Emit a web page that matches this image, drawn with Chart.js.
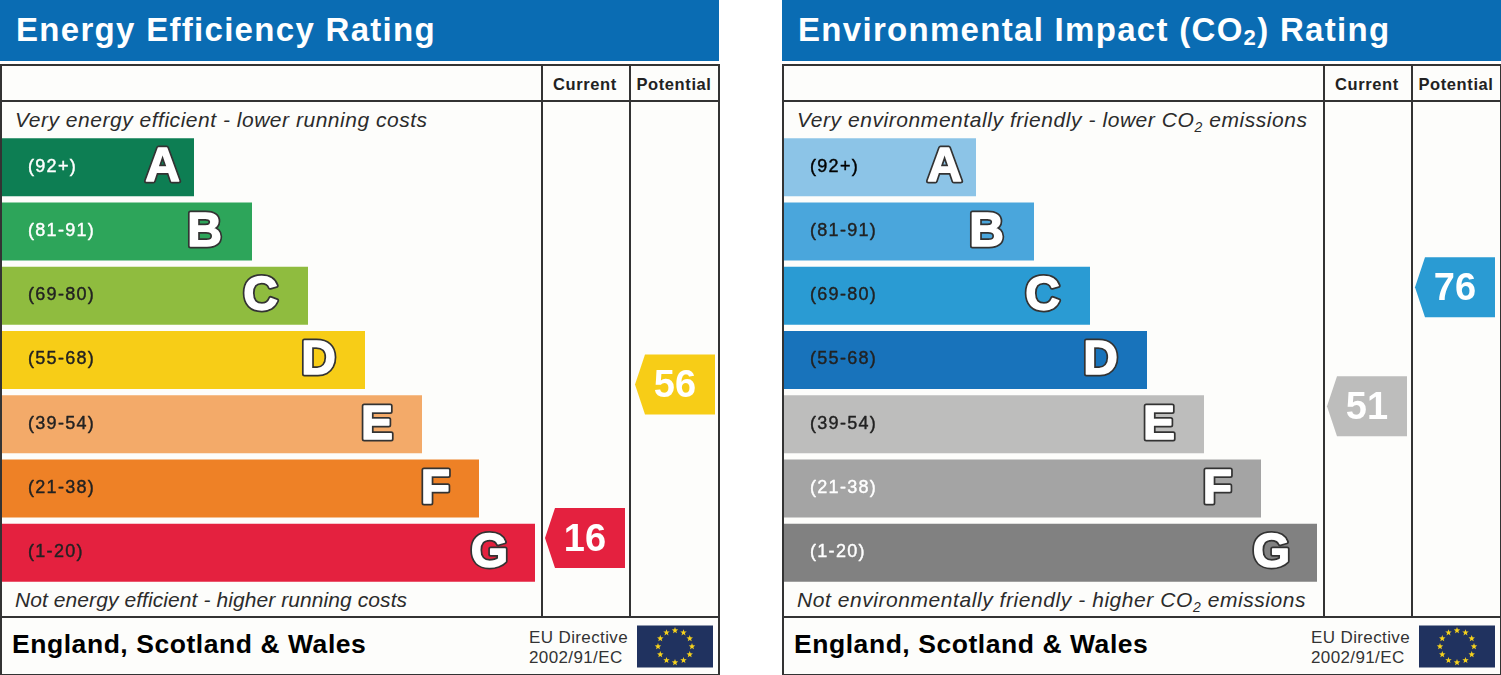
<!DOCTYPE html>
<html>
<head>
<meta charset="utf-8">
<title>Energy Efficiency and Environmental Impact Rating</title>
<script src="https://cdn.jsdelivr.net/npm/chart.js@4"></script>
<style>
html, body { margin: 0; padding: 0; background: #fff; width: 1501px; height: 675px; overflow: hidden; font-family: "Liberation Sans", Arial, sans-serif; }
.panel { position: absolute; top: 0; width: 719px; height: 675px; }
.panel canvas { position: absolute; left: 0; top: 0; }
.panel div { position: absolute; white-space: nowrap; }
.head { left: 0; top: 0; width: 719px; height: 61px; background: #0a6cb3; }
.title { left: 16px; top: 11px; color: #fff; font: bold 33px/38px "Liberation Sans", sans-serif; letter-spacing: 1.3px; }
.title sub { font-size: 22px; line-height: 0; vertical-align: -4px; }
.box { left: 0; top: 64px; width: 716px; height: 608px; border: 2px solid #333; background: #fdfdfb; }
.line { background: #333; }
.h1 { left: 0; top: 100px; width: 719px; height: 2px; }
.h2 { left: 0; top: 616px; width: 719px; height: 2px; }
.v1 { left: 541px; top: 65px; width: 2px; height: 552px; }
.v2 { left: 629px; top: 65px; width: 2px; height: 552px; }
.col { top: 74px; width: 88px; text-align: center; color: #222; font: bold 16.5px/20px "Liberation Sans", sans-serif; letter-spacing: .6px; }
.note { left: 15px; color: #2b2b2b; font: italic 21px/24px "Liberation Sans", sans-serif; letter-spacing: .52px; }
.note sub { font-size: 14px; line-height: 0; }
.nation { left: 12px; top: 629px; color: #000; font: bold 26.5px/30px "Liberation Sans", sans-serif; letter-spacing: .55px; }
.eu { left: 529px; color: #333; font: 17px/20px "Liberation Sans", sans-serif; letter-spacing: .38px; }
</style>
</head>
<body>
<div class="panel" style="left:0">
  <div class="head"></div>
  <div class="title">Energy Efficiency Rating</div>
  <div class="box"></div>
  <div class="line h1"></div><div class="line h2"></div><div class="line v1"></div><div class="line v2"></div>
  <div class="col" style="left:541px">Current</div>
  <div class="col" style="left:630px">Potential</div>
  <div class="note" style="top:108px">Very energy efficient - lower running costs</div>
  <div class="note" style="top:588px;letter-spacing:.08px">Not energy efficient - higher running costs</div>
  <div class="nation">England, Scotland &amp; Wales</div>
  <div class="eu" style="top:628px">EU Directive</div>
  <div class="eu" style="top:648px">2002/91/EC</div>
  <canvas id="energy" width="719" height="675"></canvas>
</div>
<div class="panel" style="left:782px">
  <div class="head"></div>
  <div class="title">Environmental Impact (CO<sub>2</sub>) Rating</div>
  <div class="box"></div>
  <div class="line h1"></div><div class="line h2"></div><div class="line v1"></div><div class="line v2"></div>
  <div class="col" style="left:541px">Current</div>
  <div class="col" style="left:630px">Potential</div>
  <div class="note" style="top:108px;letter-spacing:.56px">Very environmentally friendly - lower CO<sub>2</sub> emissions</div>
  <div class="note" style="top:588px;letter-spacing:.56px">Not environmentally friendly - higher CO<sub>2</sub> emissions</div>
  <div class="nation">England, Scotland &amp; Wales</div>
  <div class="eu" style="top:628px">EU Directive</div>
  <div class="eu" style="top:648px">2002/91/EC</div>
  <canvas id="environment" width="719" height="675"></canvas>
</div>
<script>
/* ======== Data ======== */
const bandLetters = ['A', 'B', 'C', 'D', 'E', 'F', 'G'];
const bandRanges = ['(92+)', '(81-91)', '(69-80)', '(55-68)', '(39-54)', '(21-38)', '(1-20)'];
const bandLengths = [192, 250, 306, 363, 420, 477, 533];

const energyColors = ['#0d7e53', '#2da55a', '#8fbc3f', '#f7cd17', '#f3aa69', '#ee8126', '#e4213f'];
const energyLabelColors = ['#fff', '#fff', '#222', '#222', '#222', '#222', '#222'];
const environmentColors = ['#8cc4e7', '#4aa6dc', '#2a9bd3', '#1873bb', '#bdbdbc', '#a4a4a4', '#818181'];
const environmentLabelColors = ['#000', '#222', '#222', '#222', '#222', '#fff', '#fff'];

// score, then where it sits on the band axis (A = 0 ... G = 6)
const energyCurrent = [16, 5.77];
const energyPotential = [56, 3.38];
const environmentCurrent = [51, 3.72];
const environmentPotential = [76, 1.87];

/* ======== Layout ======== */
const CURRENT_X = 583;
const ENERGY_POTENTIAL_X = 673;
const ENVIRONMENT_POTENTIAL_X = 671;
const LETTER_INSET = [14, 30, 30, 29, 29, 29, 27];
const FONT = '"Liberation Sans", sans-serif';

/* ======== Plugins ======== */
const bandText = {
    id: 'bandText',
    afterDatasetsDraw(chart, args, opts) {
        const ctx = chart.ctx;
        const bars = chart.getDatasetMeta(0).data;
        ctx.save();
        ctx.textBaseline = 'middle';
        bars.forEach((bar, i) => {
            ctx.letterSpacing = '1.3px';
            ctx.textAlign = 'left';
            ctx.font = '18px ' + FONT;
            ctx.fillStyle = opts.labelColors[i];
            ctx.fillText(bandRanges[i], 28, bar.y - 0.5);
            ctx.strokeStyle = opts.labelColors[i];
            ctx.lineWidth = 0.4;
            ctx.strokeText(bandRanges[i], 28, bar.y - 0.5);

            // outlined letter near the end of the bar
            const right = bar.x - LETTER_INSET[i];
            const y = bar.y + 1;
            ctx.letterSpacing = '0px';
            ctx.textAlign = 'right';
            ctx.font = 'bold 48px ' + FONT;
            ctx.lineJoin = 'round';
            ctx.strokeStyle = '#333';
            ctx.lineWidth = 5;
            ctx.strokeText(bandLetters[i], right, y);
            ctx.strokeStyle = '#fff';
            ctx.lineWidth = 1.5;
            ctx.strokeText(bandLetters[i], right, y);
            ctx.fillStyle = '#fff';
            ctx.fillText(bandLetters[i], right, y);
        });
        ctx.restore();
    }
};

const scoreMarkers = {
    id: 'scoreMarkers',
    afterDatasetsDraw(chart) {
        const ctx = chart.ctx;
        chart.data.datasets.forEach((ds, d) => {
            if (ds.type !== 'scatter') return;
            const p = chart.getDatasetMeta(d).data[0];
            const color = chart.data.datasets[0].backgroundColor[Math.round(ds.data[0].y)];
            ctx.save();
            ctx.fillStyle = color;
            ctx.beginPath();
            ctx.moveTo(p.x - 40, p.y);
            ctx.lineTo(p.x - 30, p.y - 30);
            ctx.lineTo(p.x + 40, p.y - 30);
            ctx.lineTo(p.x + 40, p.y + 30);
            ctx.lineTo(p.x - 30, p.y + 30);
            ctx.closePath();
            ctx.fill();
            ctx.fillStyle = '#fff';
            ctx.font = 'bold 38px ' + FONT;
            ctx.textAlign = 'center';
            ctx.textBaseline = 'middle';
            ctx.fillText(ds.score, p.x, p.y + 2);
            ctx.restore();
        });
    }
};

const euFlag = {
    id: 'euFlag',
    afterDraw(chart) {
        const ctx = chart.ctx;
        ctx.save();
        ctx.fillStyle = '#20325f';
        ctx.fillRect(637, 625.5, 76, 42);
        ctx.fillStyle = '#f6d21c';
        for (let i = 0; i < 12; i++) {
            const a = i * Math.PI / 6;
            const cx = 675 + 17 * Math.sin(a);
            const cy = 646.5 - 16 * Math.cos(a);
            ctx.beginPath();
            for (let k = 0; k < 10; k++) {
                const r = k % 2 ? 1.4 : 3.4;
                const b = k * Math.PI / 5;
                ctx.lineTo(cx + r * Math.sin(b), cy - r * Math.cos(b));
            }
            ctx.closePath();
            ctx.fill();
        }
        ctx.restore();
    }
};

/* ======== Chart Helper ======== */
function createRating(id, colors, labelColors, current, potential, potentialX) {
    return new Chart(document.getElementById(id), {
        type: 'bar',
        data: {
            labels: bandLetters,
            datasets: [
                { data: bandLengths, backgroundColor: colors, categoryPercentage: 1, barPercentage: 0.902 },
                // parsing off so the category axis keeps the fractional band position
                { type: 'scatter', label: 'Current', score: current[0], parsing: false, data: [{ x: CURRENT_X, y: current[1] }], pointRadius: 0 },
                { type: 'scatter', label: 'Potential', score: potential[0], parsing: false, data: [{ x: potentialX, y: potential[1] }], pointRadius: 0 }
            ]
        },
        options: {
            indexAxis: 'y',
            responsive: false,
            animation: false,
            layout: { padding: { left: 2, right: 0, top: 135, bottom: 90 } },
            scales: {
                x: { type: 'linear', min: 0, max: 717, display: false },
                y: { type: 'category', offset: true, min: 0, max: 6, display: false }
            },
            plugins: {
                legend: { display: false },
                tooltip: { enabled: false },
                bandText: { labelColors: labelColors }
            }
        },
        plugins: [bandText, scoreMarkers, euFlag]
    });
}

createRating('energy', energyColors, energyLabelColors, energyCurrent, energyPotential, ENERGY_POTENTIAL_X);
createRating('environment', environmentColors, environmentLabelColors, environmentCurrent, environmentPotential, ENVIRONMENT_POTENTIAL_X);
</script>
</body>
</html>
